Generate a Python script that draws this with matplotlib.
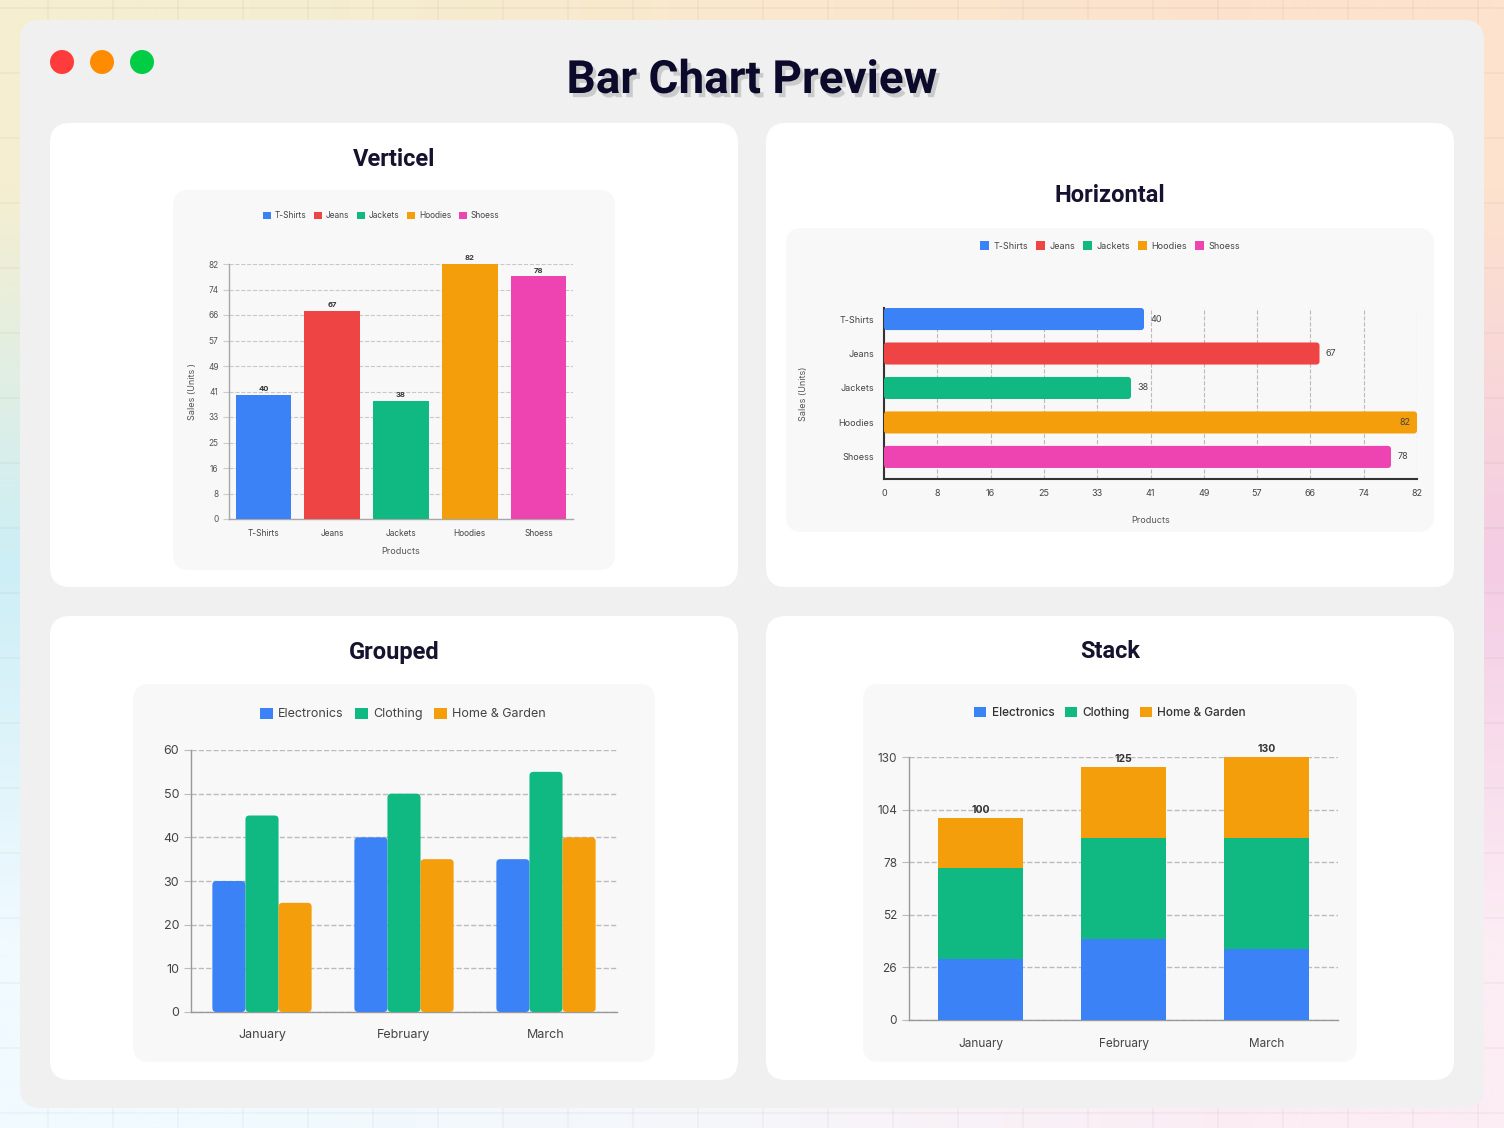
import numpy as np
import matplotlib
matplotlib.use("Agg")
import matplotlib.pyplot as plt
import matplotlib.patheffects as pe
from matplotlib.patches import FancyBboxPatch, Circle, Patch

plt.rcParams['font.family'] = ['Inter', 'DejaVu Sans']

# ---- data ----
products = ['T-Shirts', 'Jeans', 'Jackets', 'Hoodies', 'Shoess']
product_sales = [40, 67, 38, 82, 78]
product_colors = ['#3b82f6', '#ef4444', '#10b981', '#f59e0b', '#ee44b2']

months = ['January', 'February', 'March']
electronics = [30, 40, 35]
clothing = [45, 50, 55]
home_garden = [25, 35, 40]
series_names = ['Electronics', 'Clothing', 'Home & Garden']
series_colors = ['#3b82f6', '#10b981', '#f59e0b']

W, H = 1504, 1128


def px(x0, y0, x1, y1):
    return [x0 / W, 1 - y1 / H, (x1 - x0) / W, (y1 - y0) / H]


def legend_at(ax, names, colors, cx, cy, size, **kw):
    handles = [Patch(facecolor=c, edgecolor='none') for c in colors]
    leg = ax.legend(handles, names, loc='center', bbox_to_anchor=(cx / W, 1 - cy / H),
                    bbox_transform=fig.transFigure, ncol=len(names), frameon=False,
                    fontsize=size, handlelength=1.0, handleheight=1.0,
                    columnspacing=0.9, handletextpad=0.45, **kw)
    for t in leg.get_texts():
        t.set_color('#444444')
    return leg


def style_axes(ax, spine_color='#a8a8a8', lw=1.0):
    ax.set_facecolor('none')
    for s in ['top', 'right']:
        ax.spines[s].set_visible(False)
    for s in ['left', 'bottom']:
        ax.spines[s].set_color(spine_color)
        ax.spines[s].set_linewidth(lw)
    ax.set_axisbelow(True)


def round_bars(ax, container, radius_px):
    # swap the plain rectangles for rounded ones of the same size
    p0 = ax.transData.transform((0, 0))
    p1 = ax.transData.transform((1, 1))
    sx, sy = abs(p1[0] - p0[0]), abs(p1[1] - p0[1])
    for rect in container:
        x, y = rect.get_xy()
        w, h = rect.get_width(), rect.get_height()
        rr = FancyBboxPatch((x, y), w, h,
                            boxstyle=f'round,pad=0,rounding_size={radius_px / sx}',
                            mutation_aspect=sx / sy, fc=rect.get_facecolor(), ec='none',
                            zorder=rect.get_zorder())
        rect.set_visible(False)
        ax.add_patch(rr)


fig = plt.figure(figsize=(15.04, 11.28), dpi=100)

# ---- page background ----
bg = fig.add_axes([0, 0, 1, 1])
bg.set_xlim(0, W)
bg.set_ylim(H, 0)
bg.axis('off')
grad = np.array([
    [[245, 238, 208], [250, 232, 205], [253, 226, 205]],
    [[205, 238, 246], [235, 235, 235], [244, 204, 228]],
    [[240, 250, 255], [246, 246, 250], [252, 236, 244]],
]) / 255.0
bg.imshow(grad, extent=[0, W, H, 0], interpolation='bilinear', aspect='auto', zorder=0)
for gx in range(48, W, 65):
    bg.plot([gx, gx], [0, H], color='black', alpha=0.028, lw=1.5, zorder=1)
for gy in range(8, H, 65):
    bg.plot([0, W], [gy, gy], color='black', alpha=0.028, lw=1.5, zorder=1)

bg.add_patch(FancyBboxPatch((20, 20), 1464, 1088, boxstyle='round,pad=0,rounding_size=20',
                            fc='#f0f0f0', ec='none', zorder=2))
for cx, col in zip([62, 102, 142], ['#ff3b3b', '#ff8c00', '#00cc44']):
    bg.add_patch(Circle((cx, 62), 12, fc=col, ec='none', zorder=3))

bg.text(752, 80, 'Bar Chart Preview', ha='center', va='center', fontsize=33,
        weight='bold', color='#0b0a2b', family=['Roboto', 'DejaVu Sans'], zorder=4,
        path_effects=[pe.SimplePatchShadow(offset=(2.5, -3), shadow_rgbFace='#888888', alpha=0.35),
                      pe.Normal()])

cards = [(50, 123, 738, 587), (766, 123, 1454, 587), (50, 616, 738, 1080), (766, 616, 1454, 1080)]
for x0, y0, x1, y1 in cards:
    bg.add_patch(FancyBboxPatch((x0, y0), x1 - x0, y1 - y0, boxstyle='round,pad=0,rounding_size=20',
                                fc='white', ec='none', zorder=3))
panels = [(173, 190, 615, 570), (786, 228, 1434, 532), (133, 684, 655, 1062), (863, 684, 1357, 1062)]
for x0, y0, x1, y1 in panels:
    bg.add_patch(FancyBboxPatch((x0, y0), x1 - x0, y1 - y0, boxstyle='round,pad=0,rounding_size=16',
                                fc='#f8f8f8', ec='none', zorder=4))

for (tx, ty), title in zip([(394, 159), (1110, 196), (394, 652), (1110, 652)],
                           ['Verticel', 'Horizontal', 'Grouped', 'Stack']):
    bg.text(tx, ty, title, ha='center', va='center', fontsize=17, weight='bold',
            color='#15132e', family=['Roboto', 'DejaVu Sans'], zorder=5)

# ---- vertical bars ----
ax1 = fig.add_axes(px(229, 264, 573, 519))
style_axes(ax1)
x = np.arange(len(products))
bars = ax1.bar(x, product_sales, width=0.81, color=product_colors, zorder=3)
ax1.bar_label(bars, padding=2, fontsize=5.5, weight='bold', color='#333333')
ax1.set_xlim(-0.5, len(products) - 0.5)
ax1.set_ylim(0, max(product_sales))
yt = np.linspace(0, max(product_sales), 11)
ax1.set_yticks(yt, [f'{v:.0f}' for v in yt])
ax1.set_xticks(x, products)
ax1.tick_params(axis='y', labelsize=6, colors='#555555', length=4, color='#cccccc')
ax1.tick_params(axis='x', labelsize=6, colors='#444444', length=0, pad=7)
ax1.yaxis.grid(True, ls='--', color='#c8c8c8', lw=0.8)
ax1.set_xlabel('Products', fontsize=6.5, color='#555555', labelpad=7)
ax1.set_ylabel('Sales (Units )', fontsize=6.5, color='#555555', labelpad=8)
legend_at(ax1, products, product_colors, 381, 216, 6)

# ---- horizontal bars ----
ax2 = fig.add_axes(px(884, 308, 1417, 479))
style_axes(ax2, spine_color='#333333', lw=1.5)
hb = ax2.barh(x, product_sales, height=0.64, color=product_colors, zorder=3)
ax2.set_ylim(len(products) - 0.36, -0.32)
ax2.set_xlim(0, max(product_sales))
xt = np.linspace(0, max(product_sales), 11)
ax2.set_xticks(xt, [f'{v:.0f}' for v in xt])
ax2.set_yticks(x, products)
ax2.tick_params(axis='both', labelsize=6.5, colors='#444444', length=0, pad=7)
ax2.xaxis.grid(True, ls='--', color='#bbbbbb', lw=0.8)
for rect, v in zip(hb, product_sales):
    yc = rect.get_y() + rect.get_height() / 2
    if v == max(product_sales):
        ax2.text(v - 1, yc, str(v), ha='right', va='center', fontsize=6.5, color='#444444', zorder=4)
    else:
        ax2.text(v + 1, yc, str(v), ha='left', va='center', fontsize=6.5, color='#444444', zorder=4)
ax2.set_xlabel('Products', fontsize=6.5, color='#555555', labelpad=13)
ax2.set_ylabel('Sales (Units)', fontsize=6.5, color='#555555', labelpad=22)
legend_at(ax2, products, product_colors, 1110, 246, 6.5)
round_bars(ax2, hb, 3)

# ---- grouped bars ----
ax3 = fig.add_axes(px(191, 750, 617, 1012))
style_axes(ax3, spine_color='#999999')
xm = np.arange(len(months))
bw = 0.233
ax3.set_xlim(-0.5, len(months) - 0.5)
ax3.set_ylim(0, 60)
for i, (vals, col) in enumerate(zip([electronics, clothing, home_garden], series_colors)):
    gb = ax3.bar(xm + (i - 1) * bw, vals, width=bw, color=col, zorder=3)
    round_bars(ax3, gb, 4)
ax3.set_yticks(np.arange(0, 61, 10))
ax3.set_xticks(xm, months)
ax3.tick_params(axis='y', labelsize=9, colors='#444444', length=5, color='#bbbbbb')
ax3.tick_params(axis='x', labelsize=9, colors='#444444', length=0, pad=12)
ax3.yaxis.grid(True, ls='--', color='#bbbbbb', lw=1)
legend_at(ax3, series_names, series_colors, 403, 714, 9)

# ---- stacked bars ----
ax4 = fig.add_axes(px(909, 757, 1338, 1020))
style_axes(ax4, spine_color='#999999')
bottom = np.zeros(len(months))
cont = None
for vals, col in zip([electronics, clothing, home_garden], series_colors):
    cont = ax4.bar(xm, vals, width=0.6, bottom=bottom, color=col, zorder=3)
    bottom = bottom + np.array(vals)
ax4.bar_label(cont, labels=[f'{v:.0f}' for v in bottom], padding=2, fontsize=7.5,
              weight='bold', color='#333333', zorder=5)
ax4.set_xlim(-0.5, len(months) - 0.5)
ax4.set_ylim(0, max(bottom))
ax4.set_yticks(np.linspace(0, max(bottom), 6))
ax4.set_xticks(xm, months)
ax4.tick_params(axis='y', labelsize=8.5, colors='#444444', length=5, color='#bbbbbb')
ax4.tick_params(axis='x', labelsize=8.5, colors='#444444', length=0, pad=13)
ax4.yaxis.grid(True, ls='--', color='#bbbbbb', lw=1)
leg = legend_at(ax4, series_names, series_colors, 1110, 713, 8.5)
for t in leg.get_texts():
    t.set_weight('medium')
    t.set_color('#333333')

fig.savefig('out.png', dpi=100)
